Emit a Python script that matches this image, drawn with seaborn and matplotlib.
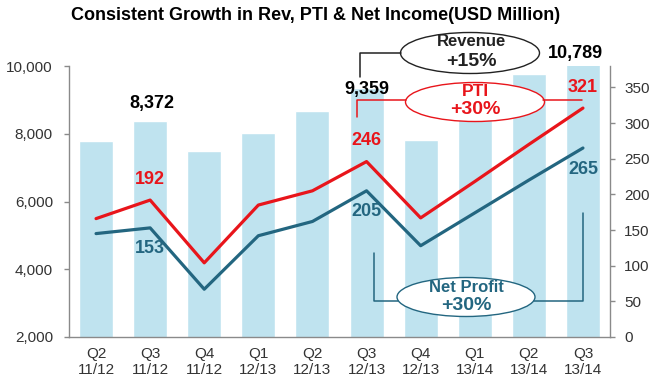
import matplotlib
matplotlib.use('Agg')
import matplotlib.pyplot as plt
import numpy as np
import pandas as pd
import seaborn as sns
from matplotlib.patches import Ellipse
from matplotlib.lines import Line2D

# Data
quarters = ['Q2\n11/12', 'Q3\n11/12', 'Q4\n11/12', 'Q1\n12/13', 'Q2\n12/13',
            'Q3\n12/13', 'Q4\n12/13', 'Q1\n13/14', 'Q2\n13/14', 'Q3\n13/14']
revenue = [7790, 8372, 7500, 8010, 8660, 9359, 7830, 9250, 9770, 10789]
pti = [166, 192, 104, 185, 205, 246, 167, 218, 270, 321]
net_profit = [145, 153, 67, 142, 162, 205, 128, 174, 220, 265]
labelled = [1, 5, 9]

BAR = '#bfe3ef'
RED = '#e8151b'
TEAL = '#236680'
GREY = '#8a8a8a'
TXT = '#333333'
W, H = 655, 382

sns.set_theme(style='white')
plt.rcParams['font.family'] = ['Liberation Sans', 'DejaVu Sans']

df = pd.DataFrame({'quarter': quarters, 'revenue': revenue,
                   'pti': pti, 'net_profit': net_profit})
df['pos'] = np.arange(len(df))


def fxy(x, y):
    # pixel position -> figure fraction
    return x / W, 1 - y / H


fig = plt.figure(figsize=(W / 100, H / 100), dpi=100)
ax = fig.add_axes([69 / W, 1 - 337 / H, (610 - 69) / W, (337 - 66) / H])

# Revenue bars
sns.barplot(data=df, x='quarter', y='revenue', color=BAR, saturation=1,
            width=0.63, ax=ax)
ax.set_xlim(-0.5, len(quarters) - 0.5)
ax.set_ylim(2000, 10000)
ax.set_yticks(range(2000, 10001, 2000))
ax.set_yticklabels([f'{v:,}' for v in range(2000, 10001, 2000)])
ax.set_xlabel('')
ax.set_ylabel('')
ax.set_xticks(np.arange(-0.5, len(quarters), 1), minor=True)
ax.tick_params(axis='x', which='major', length=0, pad=7, labelsize=11, labelcolor=TXT)
ax.tick_params(axis='x', which='minor', length=4, width=1, color=GREY, direction='out')
ax.tick_params(axis='y', length=3.6, width=1, color=GREY, pad=8, labelsize=11,
               labelcolor=TXT, direction='out', left=True)
for s in ['top', 'right']:
    ax.spines[s].set_visible(False)
for s in ['left', 'bottom']:
    ax.spines[s].set_color(GREY)
    ax.spines[s].set_linewidth(1)

# PTI and net profit lines on the right axis
ax2 = ax.twinx()
sns.lineplot(data=df, x='pos', y='pti', color=RED, linewidth=2.3, ax=ax2)
sns.lineplot(data=df, x='pos', y='net_profit', color=TEAL, linewidth=2.3, ax=ax2)
ax2.set_ylim(0, 380)
ax2.set_yticks(range(0, 351, 50))
ax2.set_ylabel('')
ax2.set_xlabel('')
ax2.tick_params(axis='y', length=3.6, width=1, color=GREY, pad=6.5, labelsize=11,
                labelcolor=TXT, direction='out', right=True)
for s in ['top', 'left', 'bottom']:
    ax2.spines[s].set_visible(False)
ax2.spines['right'].set_color(GREY)
ax2.spines['right'].set_linewidth(1)
ax.set_xlim(-0.5, len(quarters) - 0.5)

# value labels
rev_off = {1: (2, 18), 5: (0, -2), 9: (-8, -14)}
for i in labelled:
    ax.annotate(f'{revenue[i]:,}', xy=(i, revenue[i]), xytext=rev_off[i],
                textcoords='offset pixels', ha='center', va='center',
                fontsize=13, fontweight='bold', color='black', annotation_clip=False)
    ax2.annotate(f'{pti[i]}', xy=(i, pti[i]), xytext=(0, 21),
                 textcoords='offset pixels', ha='center', va='center',
                 fontsize=13, fontweight='bold', color=RED)
    ax2.annotate(f'{net_profit[i]}', xy=(i, net_profit[i]), xytext=(0, -21),
                 textcoords='offset pixels', ha='center', va='center',
                 fontsize=13, fontweight='bold', color=TEAL)

# callouts
def callout(cx, cy, w, h, color, lines, title, growth, tsize, y1, y2, tx):
    for pts in lines:
        xs, ys = zip(*[fxy(x, y) for x, y in pts])
        fig.add_artist(Line2D(xs, ys, color=color, linewidth=1.1,
                              transform=fig.transFigure))
    fig.add_artist(Ellipse(fxy(cx, cy), w / W, h / H, transform=fig.transFigure,
                           facecolor='white', edgecolor=color, linewidth=1))
    fig.text(*fxy(tx, y1), title, ha='center', va='center', fontsize=tsize,
             fontweight='bold', color=color)
    fig.text(*fxy(tx, y2), growth, ha='center', va='center', fontsize=14,
             fontweight='bold', color=color)


callout(470, 53, 139, 41, '#222222', [[(360, 77), (360, 53), (401, 53)]],
        'Revenue', '+15%', 12, 42, 62, 471)
callout(475, 102, 139, 39, RED,
        [[(357, 117), (357, 100), (406, 100)], [(543, 100), (582, 100)]],
        'PTI', '+30%', 12.5, 91, 110, 475)
callout(466, 297, 138, 39, TEAL,
        [[(374, 253), (374, 301), (398, 301)], [(534, 301), (583, 301), (583, 213)]],
        'Net Profit', '+30%', 12, 287, 306, 466)

fig.text(*fxy(316, 15), 'Consistent Growth in Rev, PTI & Net Income(USD Million)',
         ha='center', va='center', fontsize=13, fontweight='bold', color='black')

fig.savefig('out.png', dpi=100)
